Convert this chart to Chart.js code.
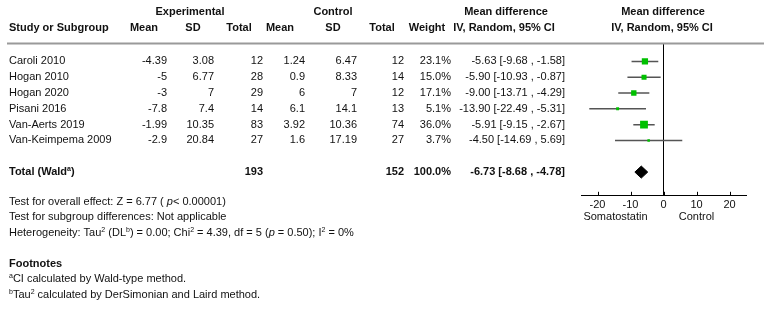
<!DOCTYPE html>
<html><head><meta charset="utf-8">
<script src="https://cdn.jsdelivr.net/npm/chart.js@4/dist/chart.umd.min.js"></script>
<style>html,body{margin:0;padding:0;background:#fff}#wrap{width:764px;height:309px;position:relative}</style>
</head><body><div id="wrap"><canvas id="c" width="764" height="309"></canvas></div>
<script>
const studies = ['Caroli 2010','Hogan 2010','Hogan 2020','Pisani 2016','Van-Aerts 2019','Van-Keimpema 2009'];
const expMean = [-4.39,-5,-3,-7.8,-1.99,-2.9];
const expSD = [3.08,6.77,7,7.4,10.35,20.84];
const expTotal = [12,28,29,14,83,27];
const ctlMean = [1.24,0.9,6,6.1,3.92,1.6];
const ctlSD = [6.47,8.33,7,14.1,10.36,17.19];
const ctlTotal = [12,14,12,13,74,27];
const weights = [23.1,15.0,17.1,5.1,36.0,3.7];
const meanDiff = [-5.63,-5.90,-9.00,-13.90,-5.91,-4.50];
const ciLow = [-9.68,-10.93,-13.71,-22.49,-9.15,-14.69];
const ciHigh = [-1.58,-0.87,-4.29,-5.31,-2.67,5.69];
const totalExp = 193;
const totalCtl = 152;
const totalWeight = 100.0;
const totalMD = -6.73;
const totalLow = -8.68;
const totalHigh = -4.78;
const xTicks = [-20,-10,0,10,20];
const axisLabels = ['Somatostatin','Control'];

const FONT = "'Liberation Sans', Arial, sans-serif";
const TXT = '#111';
const GREEN = '#00c000';
const TOTAL_ROW = 8;
const DIAMOND_H = 0.38;

const squares = meanDiff.map((m,i)=>({x:m,y:i+1}));
const ciPts = [];
meanDiff.forEach((m,i)=>{ciPts.push({x:ciLow[i],y:i+1});ciPts.push({x:ciHigh[i],y:i+1});ciPts.push({x:ciHigh[i],y:null});});
const diamond = [{x:totalLow,y:TOTAL_ROW},{x:totalMD,y:TOTAL_ROW-DIAMOND_H},{x:totalHigh,y:TOTAL_ROW},{x:totalMD,y:TOTAL_ROW+DIAMOND_H},{x:totalLow,y:TOTAL_ROW}];

function rich(ctx, segs, x, y, align){
  const size = 11;
  const fontOf = s => (s.i?'italic ':'') + (s.b?'bold ':'') + (s.sup? Math.round(size*0.65) : size) + 'px ' + FONT;
  let w = 0;
  segs.forEach(s=>{ctx.font = fontOf(s); w += ctx.measureText(s.t).width;});
  let cx = align==='right' ? x - w : (align==='center' ? x - w/2 : x);
  ctx.textAlign = 'left';
  segs.forEach(s=>{
    ctx.font = fontOf(s);
    ctx.textBaseline = 'middle';
    ctx.fillText(s.t, cx, s.sup ? y-3 : y);
    cx += ctx.measureText(s.t).width;
  });
}
function txt(ctx, t, x, y, align, bold){ rich(ctx, [{t:t,b:bold}], x, y, align); }

const tablePlugin = {
  id:'table',
  afterDraw(chart){
    const ctx = chart.ctx;
    const ys = chart.scales.y, xs = chart.scales.x;
    const area = chart.chartArea;
    ctx.save();
    ctx.strokeStyle = '#9a9a9a'; ctx.lineWidth = 2;
    ctx.beginPath(); ctx.moveTo(7, area.top-0.5); ctx.lineTo(764, area.top-0.5); ctx.stroke();
    ctx.strokeStyle = '#000'; ctx.lineWidth = 1;
    xTicks.forEach(v=>{const px = Math.round(xs.getPixelForValue(v))+0.5; ctx.beginPath(); ctx.moveTo(px, area.bottom-4); ctx.lineTo(px, area.bottom); ctx.stroke();});
    ctx.fillStyle = TXT;
    const h1 = 12, h2 = 28;
    txt(ctx,'Experimental',190,h1,'center',true);
    txt(ctx,'Control',333,h1,'center',true);
    txt(ctx,'Mean difference',506,h1,'center',true);
    txt(ctx,'Mean difference',663,h1,'center',true);
    txt(ctx,'Study or Subgroup',9,h2,'left',true);
    txt(ctx,'Mean',144,h2,'center',true);
    txt(ctx,'SD',193,h2,'center',true);
    txt(ctx,'Total',239,h2,'center',true);
    txt(ctx,'Mean',280,h2,'center',true);
    txt(ctx,'SD',333,h2,'center',true);
    txt(ctx,'Total',382,h2,'center',true);
    txt(ctx,'Weight',427,h2,'center',true);
    txt(ctx,'IV, Random, 95% CI',504,h2,'center',true);
    txt(ctx,'IV, Random, 95% CI',662,h2,'center',true);
    studies.forEach((s,i)=>{
      const y = ys.getPixelForValue(i+1);
      txt(ctx,s,9,y,'left');
      txt(ctx,String(expMean[i]),167,y,'right');
      txt(ctx,String(expSD[i]),214,y,'right');
      txt(ctx,String(expTotal[i]),263,y,'right');
      txt(ctx,String(ctlMean[i]),305,y,'right');
      txt(ctx,String(ctlSD[i]),357,y,'right');
      txt(ctx,String(ctlTotal[i]),404,y,'right');
      txt(ctx,weights[i].toFixed(1)+'%',451,y,'right');
      txt(ctx,meanDiff[i].toFixed(2)+' ['+ciLow[i].toFixed(2)+' , '+ciHigh[i].toFixed(2)+']',565,y,'right');
    });
    const ty = ys.getPixelForValue(TOTAL_ROW);
    rich(ctx,[{t:'Total (Wald',b:true},{t:'a',b:true,sup:true},{t:')',b:true}],9,ty,'left');
    txt(ctx,String(totalExp),263,ty,'right',true);
    txt(ctx,String(totalCtl),404,ty,'right',true);
    txt(ctx,totalWeight.toFixed(1)+'%',451,ty,'right',true);
    txt(ctx,totalMD.toFixed(2)+' ['+totalLow.toFixed(2)+' , '+totalHigh.toFixed(2)+']',565,ty,'right',true);
    rich(ctx,[{t:'Test for overall effect: Z = 6.77 ( '},{t:'p',i:true},{t:'< 0.00001)'}],9,202,'left');
    txt(ctx,'Test for subgroup differences: Not applicable',9,217,'left');
    rich(ctx,[{t:'Heterogeneity: Tau'},{t:'2',sup:true},{t:' (DL'},{t:'b',sup:true},{t:') = 0.00; Chi'},{t:'2',sup:true},{t:' = 4.39, df = 5 ('},{t:'p',i:true},{t:' = 0.50); I'},{t:'2',sup:true},{t:' = 0%'}],9,233,'left');
    txt(ctx,'Footnotes',9,264,'left',true);
    rich(ctx,[{t:'a',sup:true},{t:'CI calculated by Wald-type method.'}],9,279,'left');
    rich(ctx,[{t:'b',sup:true},{t:'Tau'},{t:'2',sup:true},{t:' calculated by DerSimonian and Laird method.'}],9,295,'left');
    const midL = (xs.getPixelForValue(xTicks[0]) + xs.getPixelForValue(xTicks[2]))/2;
    const midR = (xs.getPixelForValue(xTicks[2]) + xs.getPixelForValue(xTicks[4]))/2;
    txt(ctx,axisLabels[0],midL-15,area.bottom+21,'center');
    txt(ctx,axisLabels[1],midR,area.bottom+21,'center');
    ctx.restore();
  }
};

new Chart(document.getElementById('c'),{
  type:'line',
  data:{datasets:[
    {data:squares, showLine:false, pointStyle:'rect', backgroundColor:GREEN, borderWidth:0,
     pointRadius:(c)=> Math.sqrt(weights[c.dataIndex]||0)*1.3/Math.SQRT2, pointHoverRadius:0},
    {data:ciPts, borderColor:'#555', borderWidth:1.5, pointRadius:0, spanGaps:false, tension:0},
    {data:diamond, borderColor:'#000', backgroundColor:'#000', borderWidth:1, pointRadius:0, fill:'shape', tension:0}
  ]},
  options:{
    responsive:false, animation:false, events:[],
    layout:{padding:{left:581,right:18,top:44,bottom:94}},
    plugins:{legend:{display:false},tooltip:{enabled:false}},
    scales:{
      x:{type:'linear',min:-25,max:25,
        afterBuildTicks:(s)=>{s.ticks = xTicks.map(v=>({value:v}));},
        grid:{drawTicks:false,color:(c)=> (c.tick && c.tick.value===0)?'#000':'rgba(0,0,0,0)',lineWidth:1},
        border:{display:true,color:'#000',width:1},
        ticks:{padding:3,color:TXT,font:{family:FONT,size:11},maxRotation:0,autoSkip:false}
      },
      y:{type:'linear',display:false,reverse:true,min:-0.1,max:9.5}
    }
  },
  plugins:[tablePlugin]
});
</script></body></html>
